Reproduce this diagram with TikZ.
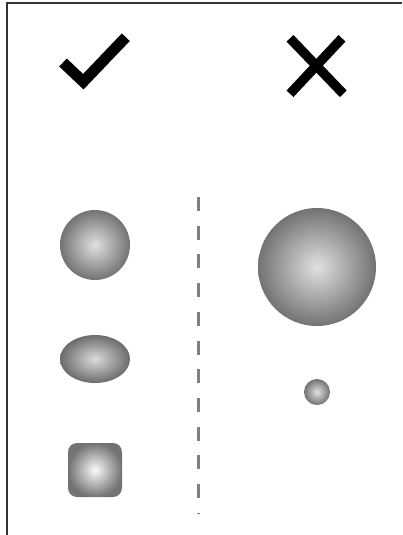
\documentclass[tikz,border=0pt]{standalone}
\usetikzlibrary{positioning,shapes.geometric}

\begin{document}
\begin{tikzpicture}[
  x=1pt, y=-1pt,
  ball/.style={
    circle, inner sep=0pt, shading=radial,
    inner color=black!12, outer color=black!55,
  },
  egg/.style={
    ellipse, inner sep=0pt, shading=radial,
    inner color=black!14, outer color=black!58,
  },
  cube/.style={
    rectangle, rounded corners=9pt, inner sep=0pt, shading=radial,
    inner color=black!2, outer color=black!55,
  },
  sign/.style={line width=11pt, line join=miter, line cap=butt, draw=black},
  divider/.style={line width=3pt, draw=black!50, dash pattern=on 14pt off 14.7pt},
  frame/.style={line width=1.5pt, draw=black!80},
]
\useasboundingbox (0,0) rectangle (402,535);

% frame
\draw[frame] (7,535) |- (402,3);

% good / bad signs
\draw[sign] (63,62.5) -- (83.3,81.7) -- (125.8,37.2);
\draw[sign, line width=9.5pt] (290,38.3) -- (343.3,93.8);
\draw[sign, line width=9.5pt] (342,38.3) -- (290,93.8);

% left column
\node[ball, minimum size=70pt] (round) at (95,245) {};
\node[egg, minimum width=70pt, minimum height=48pt] (oval) at (95,359) {};
\node[cube, minimum size=54pt] (square) at (95,470) {};

% right column
\node[ball, minimum size=118pt] (big) at (317,267) {};
\node[ball, minimum size=26pt] (small) at (317,392) {};

% divider
\coordinate (top) at (198,197);
\coordinate (bottom) at (198,514);
\draw[divider] (top) -- (bottom);

\end{tikzpicture}
\end{document}
